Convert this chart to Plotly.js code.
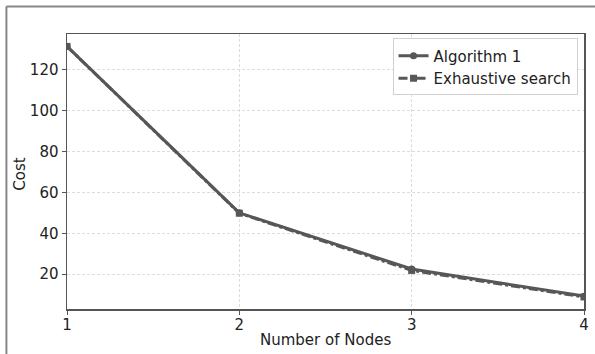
<!DOCTYPE html>
<html>
<head>
<meta charset="utf-8">
<script src="https://cdn.plot.ly/plotly-3.0.1.min.js"></script>
<style>
html,body{margin:0;padding:0;background:#fff;}
#chart{width:595px;height:354px;}
</style>
</head>
<body>
<div id="chart"></div>
<script>
const nodes = [1, 2, 3, 4];
const algorithm1 = [131.5, 50, 22.5, 9.2];
const exhaustive = [131.5, 49.8, 21.8, 8.8];
const seriesNames = ["Algorithm 1", "Exhaustive search"];
const xTicks = [1, 2, 3, 4];
const yTicks = [20, 40, 60, 80, 100, 120];
const xTitle = "Number of Nodes";
const yTitle = "Cost";

const lineColor = "#575757";
const traces = [
  {
    x: nodes, y: algorithm1, name: seriesNames[0], type: "scatter", mode: "lines+markers",
    line: {color: lineColor, width: 3, dash: "solid"},
    marker: {symbol: "circle", size: 7, color: lineColor}
  },
  {
    x: nodes, y: exhaustive, name: seriesNames[1], type: "scatter", mode: "lines+markers",
    line: {color: lineColor, width: 3, dash: "dashdot"},
    marker: {symbol: "square", size: 7, color: lineColor}
  }
];

const font = {family: "DejaVu Sans, sans-serif", size: 15, color: "#222"};
const layout = {
  width: 595, height: 354,
  margin: {l: 66.7, r: 10.5, t: 33.5, b: 44.5},
  paper_bgcolor: "#fff", plot_bgcolor: "#fff",
  font: font,
  showlegend: true,
  xaxis: {
    range: [1, 4], tickvals: xTicks, ticktext: xTicks.map(String),
    showgrid: true, gridcolor: "#dcdcdc", griddash: "3px,2px", gridwidth: 1,
    zeroline: false, showline: true, linecolor: "#555", linewidth: 1.5, mirror: true,
    ticks: "outside", ticklen: 4, tickcolor: "#555", tickfont: font, ticklabelstandoff: -3
  },
  yaxis: {
    range: [2.9, 137.6], tickvals: yTicks,
    showgrid: true, gridcolor: "#dcdcdc", griddash: "3px,2px", gridwidth: 1,
    zeroline: false, showline: true, linecolor: "#555", linewidth: 1.5, mirror: true,
    ticks: "outside", ticklen: 4, tickcolor: "#555", tickfont: font
  },
  legend: {
    x: 0.9875, xanchor: "right", y: 0.984, yanchor: "top",
    bgcolor: "#fff", bordercolor: "#d0d0d0", borderwidth: 1,
    font: font, tracegroupgap: 0
  },
  annotations: [
    {text: xTitle, xref: "paper", yref: "paper", x: 0.5, y: -0.111, xanchor: "center", yanchor: "middle",
     showarrow: false, font: font},
    {text: yTitle, xref: "paper", yref: "paper", x: -0.09, y: 0.49, xanchor: "center", yanchor: "middle",
     textangle: -90, showarrow: false, font: font}
  ],
  shapes: [
    {type: "line", xref: "paper", yref: "paper", x0: -0.1172, x1: -0.1172, y0: -0.2, y1: 1.0996,
     line: {color: "#888", width: 2}},
    {type: "line", xref: "paper", yref: "paper", x0: -0.1172, x1: 1.1, y0: 1.0996, y1: 1.0996,
     line: {color: "#888", width: 2}}
  ]
};

Plotly.newPlot("chart", traces, layout, {displayModeBar: false, staticPlot: true});
</script>
</body>
</html>
